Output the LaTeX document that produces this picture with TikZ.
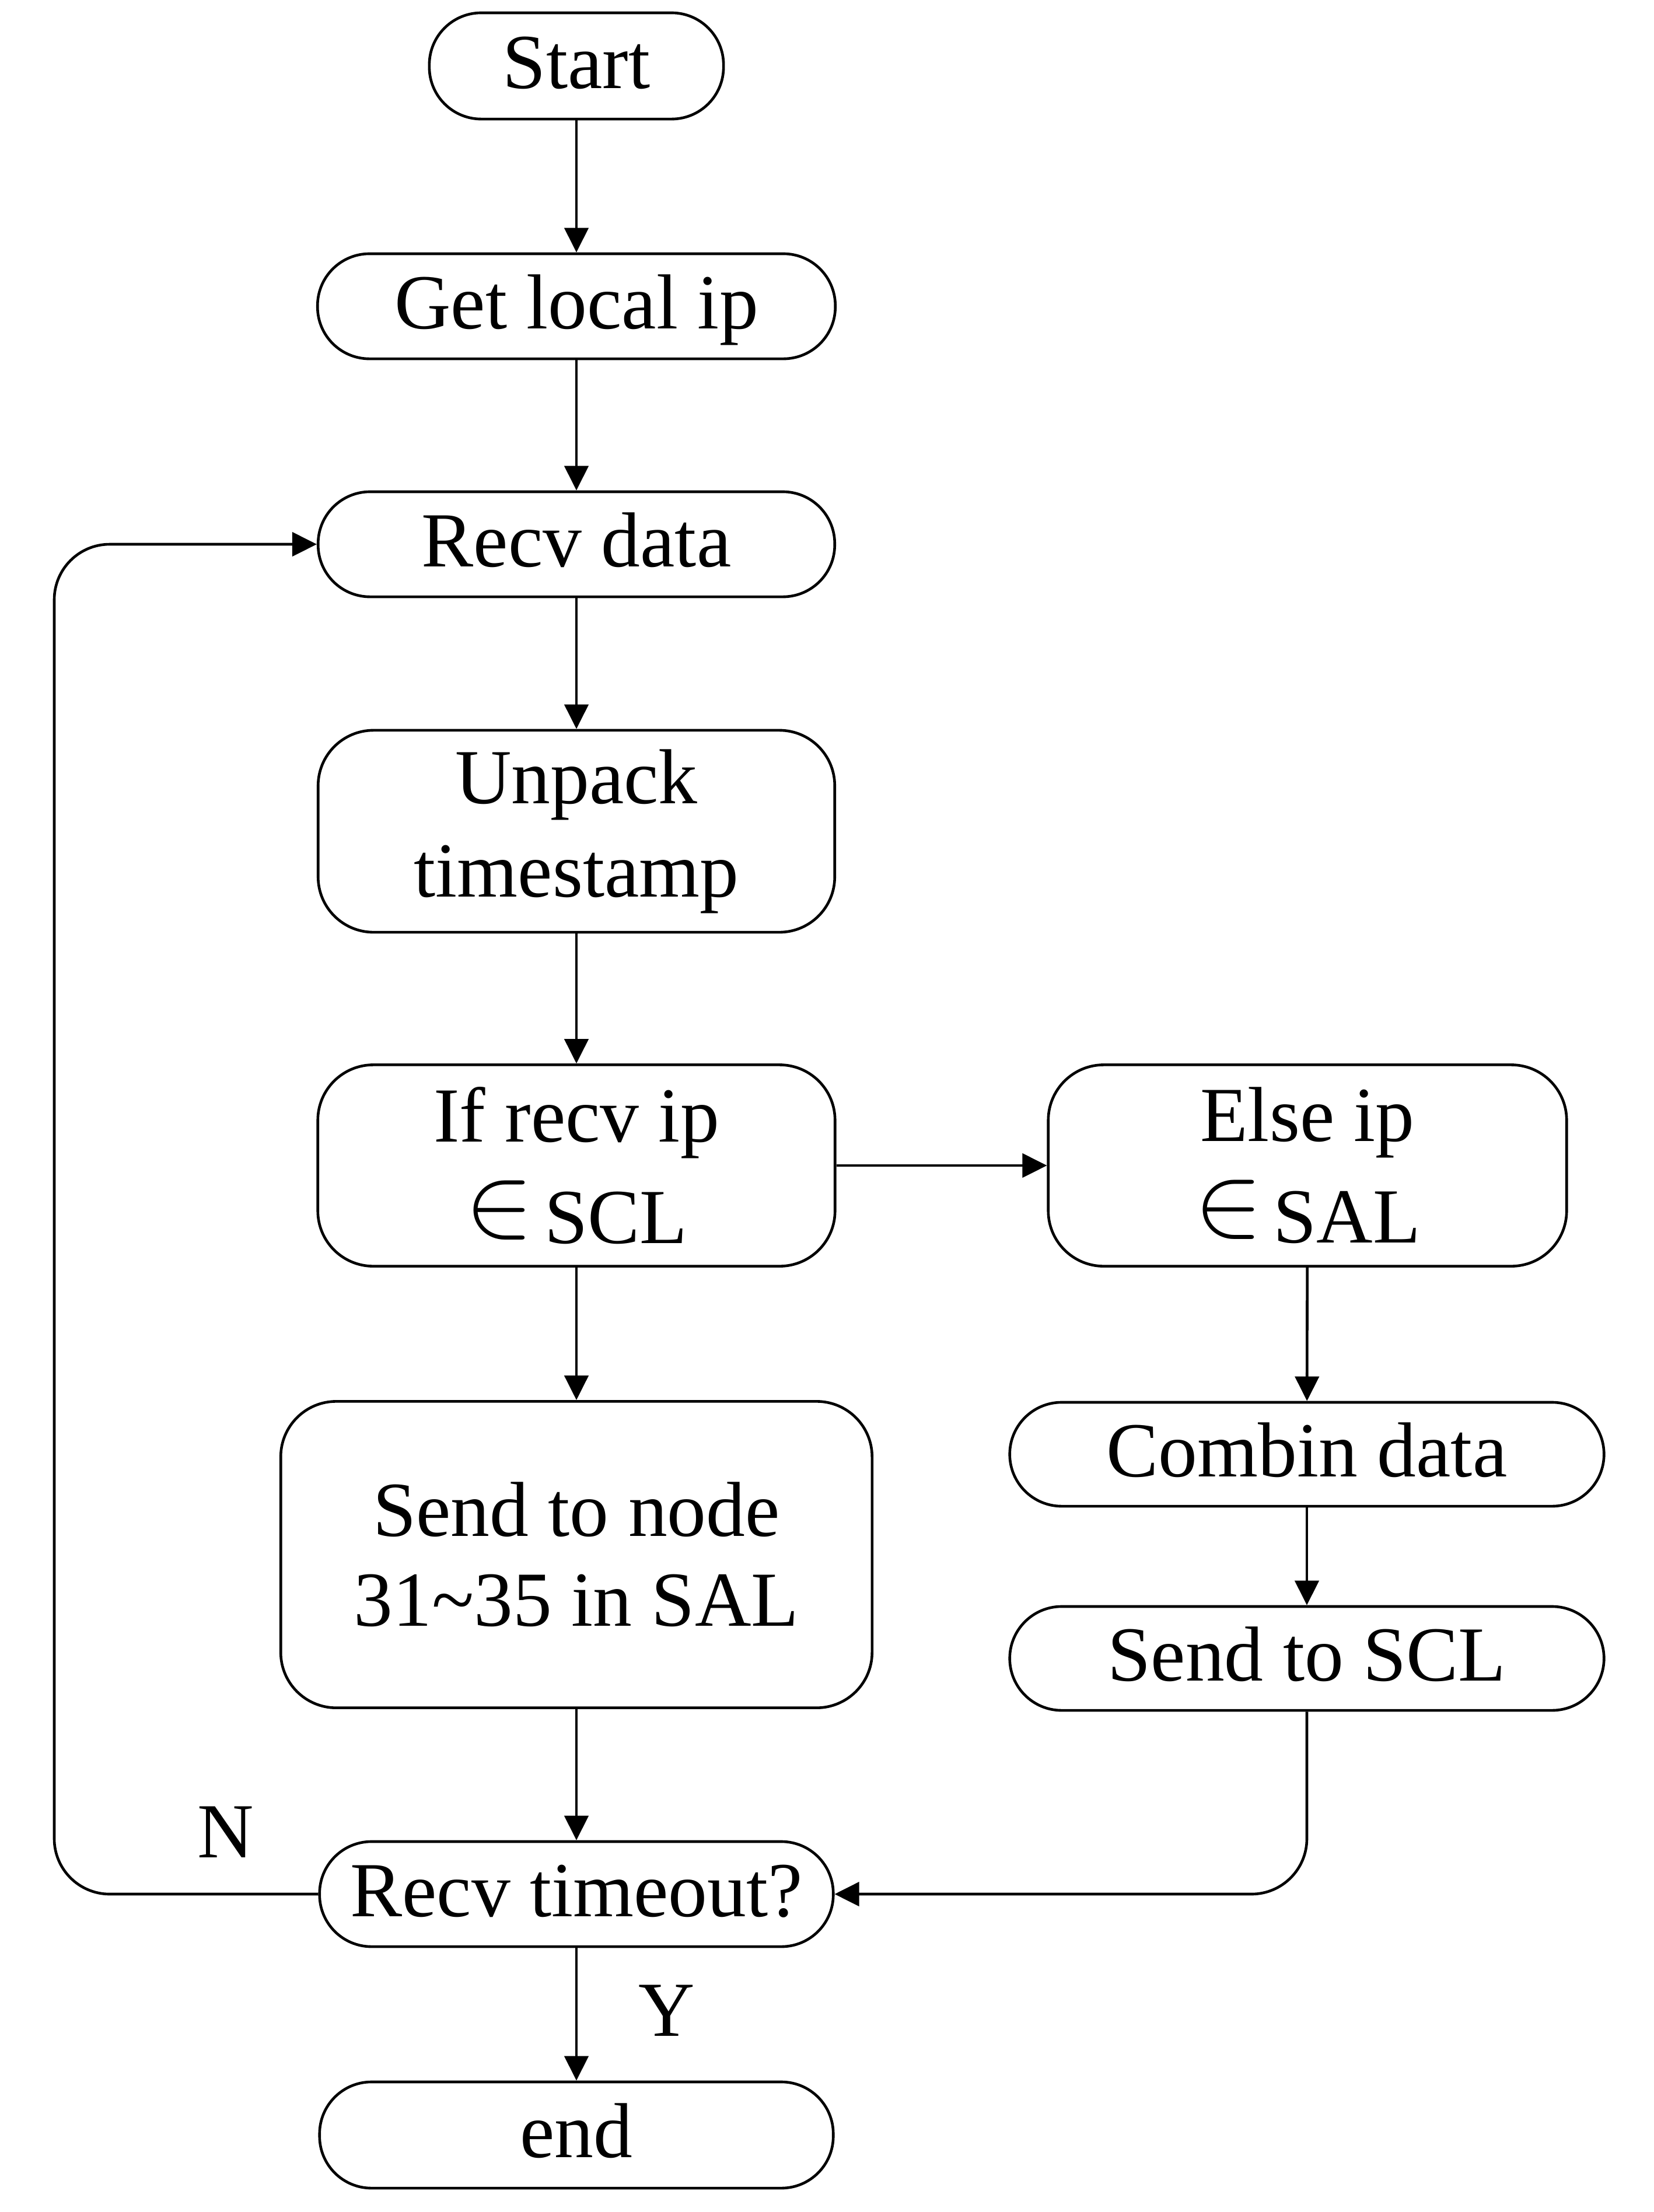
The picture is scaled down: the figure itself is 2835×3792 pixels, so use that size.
\documentclass[tikz,border=0pt]{standalone}
\usepackage{graphicx}
\usepackage{fontspec}
\setmainfont{Liberation Serif}
\newcommand{\elem}{\raisebox{0.1em}{{\fontsize{24.88}{30}\selectfont\scalebox{2.0}{$\in$}}}}
\usetikzlibrary{arrows.meta}
\begin{document}
\begin{tikzpicture}[x=0.01cm,y=-0.01cm,
  box/.style={draw, line width=0.046cm, rounded corners=0.89cm, inner sep=0pt, align=center,
              font=\fontsize{38}{46}\selectfont},
  one/.style={box, text height=1.07cm, text depth=0.30cm},
  tall/.style={box, rounded corners=0.95cm},
  conn/.style={line width=0.046cm, -{Triangle[length=0.42cm,width=0.41cm]}},
  lbl/.style={font=\fontsize{38}{46}\selectfont, anchor=base, inner sep=0pt}]
\useasboundingbox (0,0) rectangle (2835,3792);
% main column
\node[one, minimum width=5.04cm, minimum height=1.82cm] (start) at (988,113) {Start};
\node[one, minimum width=8.87cm, minimum height=1.80cm] (get) at (988,525) {Get local ip};
\node[one, minimum width=8.85cm, minimum height=1.80cm] (recv) at (988,933) {Recv data};
\node[tall, minimum width=8.85cm, minimum height=3.46cm,
      font=\fontsize{38}{45.5}\selectfont] (unpack) at (988,1425) {Unpack\\timestamp};
\node[tall, minimum width=8.86cm, minimum height=3.45cm,
      font=\fontsize{38}{49.5}\selectfont] (ifbox) at (988,1998) {If recv ip\\\elem\hspace{0.14em}SCL};
\node[tall, minimum width=10.13cm, minimum height=5.25cm,
      font=\fontsize{38}{43.8}\selectfont] (sendnode) at (988,2665) {Send to node\\31\textasciitilde35 in SAL};
\node[one, minimum width=8.80cm, minimum height=1.80cm] (timeout) at (988,3247) {Recv timeout?};
\node[one, minimum width=8.80cm, minimum height=1.82cm] (stop) at (988,3660) {end};
% right column
\node[tall, minimum width=8.88cm, minimum height=3.45cm,
      font=\fontsize{38}{49.5}\selectfont] (elsebox) at (2241,1998) {Else ip\\\elem\hspace{0.14em}SAL};
\node[one, minimum width=10.18cm, minimum height=1.78cm] (combin) at (2240,2493) {Combin data};
\node[one, minimum width=10.18cm, minimum height=1.78cm] (sendscl) at (2240,2843) {Send to SCL};
% labels
\node[lbl] (nlab) at (387,3184) {N};
\node[lbl] (ylab) at (1143,3490) {Y};
\coordinate (loopx) at (93,0);
% connectors
\draw[conn] (start) -- (get);
\draw[conn] (get) -- (recv);
\draw[conn] (recv) -- (unpack);
\draw[conn] (unpack) -- (ifbox);
\draw[conn] (ifbox) -- (elsebox);
\draw[conn] (ifbox) -- (sendnode);
\draw[conn] (elsebox) -- (combin);
\draw[conn] (combin) -- (sendscl);
\draw[conn] (sendnode) -- (timeout);
\draw[conn] (timeout) -- (stop);
\draw[conn, rounded corners=0.95cm] (timeout.west) -- (timeout.west -| loopx) -- (recv.west -| loopx) -- (recv.west);
\draw[conn, rounded corners=0.95cm] (sendscl.south) -- (sendscl.south |- timeout.east) -- (timeout.east);
\end{tikzpicture}
\end{document}
